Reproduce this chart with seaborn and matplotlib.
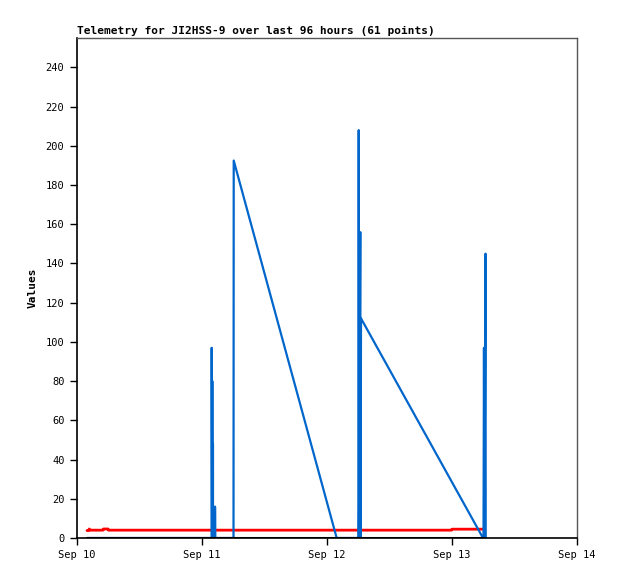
import pandas as pd
import numpy as np
import matplotlib
matplotlib.use("Agg")
import matplotlib.pyplot as plt
import matplotlib.dates as mdates
import seaborn as sns

# --- veri: saat (Sep 10 00:00'dan itibaren) ve degerler ---
start = pd.Timestamp("2023-09-10 00:00")

blue_hours = [1.92, 25.84, 25.86, 25.94, 25.98, 26.04, 26.08, 26.11, 26.11,
              26.50, 26.50, 26.53,
              30.05, 30.09, 49.86, 54.05, 54.09, 54.14, 54.39, 54.43, 54.53,
              77.95, 78.05, 78.14, 78.24, 78.43, 78.47]
blue_vals = [0, 0, 97, 0, 80, 0, 48, 48, 0,
             0, 16, 0,
             0, 192.5, 0, 0, 208, 0, 156, 0, 112,
             0, 0, 97, 0, 145, 0]

red_hours = [1.92, 2.30, 2.35, 2.59, 4.99, 5.09, 5.95, 6.05, 71.90, 72.00, 77.95]
red_vals = [3.8, 3.8, 4.6, 4.0, 4.0, 4.6, 4.6, 4.0, 4.0, 4.5, 4.5]

black_hours = [1.92, 77.95]
black_vals = [0, 0]

title = "Telemetry for JI2HSS-9 over last 96 hours (61 points)"
y_ticks = list(range(0, 241, 20))
x_days = ["2023-09-10", "2023-09-11", "2023-09-12", "2023-09-13", "2023-09-14"]


def frame(hours, vals):
    return pd.DataFrame({"t": start + pd.to_timedelta(hours, unit="h"), "v": vals})


sns.set_style("white")
plt.rcParams["font.family"] = ["DejaVu Sans Mono", "DejaVu Sans"]
plt.rcParams["text.color"] = "black"
plt.rcParams["axes.labelcolor"] = "black"

fig = plt.figure(figsize=(6.18, 5.79), dpi=100)
ax = fig.add_axes([77 / 618, 1 - 538 / 579, 500 / 618, 500 / 579])

sns.lineplot(data=frame(red_hours, red_vals), x="t", y="v", ax=ax,
             color="#ff0000", linewidth=2.0, estimator=None, sort=False)
sns.lineplot(data=frame(blue_hours, blue_vals), x="t", y="v", ax=ax,
             color="#0066cc", linewidth=1.6, estimator=None, sort=False)
sns.lineplot(data=frame(black_hours, black_vals), x="t", y="v", ax=ax,
             color="black", linewidth=2.2, estimator=None, sort=False)

ax.set_xlim(pd.Timestamp(x_days[0]), pd.Timestamp(x_days[-1]))
ax.set_ylim(0, 255)
ax.set_yticks(y_ticks)
ax.set_xticks([pd.Timestamp(d) for d in x_days])
ax.xaxis.set_major_formatter(mdates.DateFormatter("%b %d"))

ax.tick_params(direction="out", length=5, width=1, labelsize=7.5, colors="black",
               bottom=True, left=True, pad=4)
ax.tick_params(axis="x", pad=4)
for side in ["left", "bottom"]:
    ax.spines[side].set_color("black")
    ax.spines[side].set_linewidth(1.2)
for side in ["top", "right"]:
    ax.spines[side].set_color("#555555")
    ax.spines[side].set_linewidth(1.0)

ax.set_xlabel("")
ax.set_ylabel("Values", fontsize=8, fontweight="bold", labelpad=6)
fig.text(77 / 618, 1 - 31 / 579, title, fontsize=8, fontweight="bold",
         ha="left", va="center")

plt.savefig("out.png", dpi=100)
